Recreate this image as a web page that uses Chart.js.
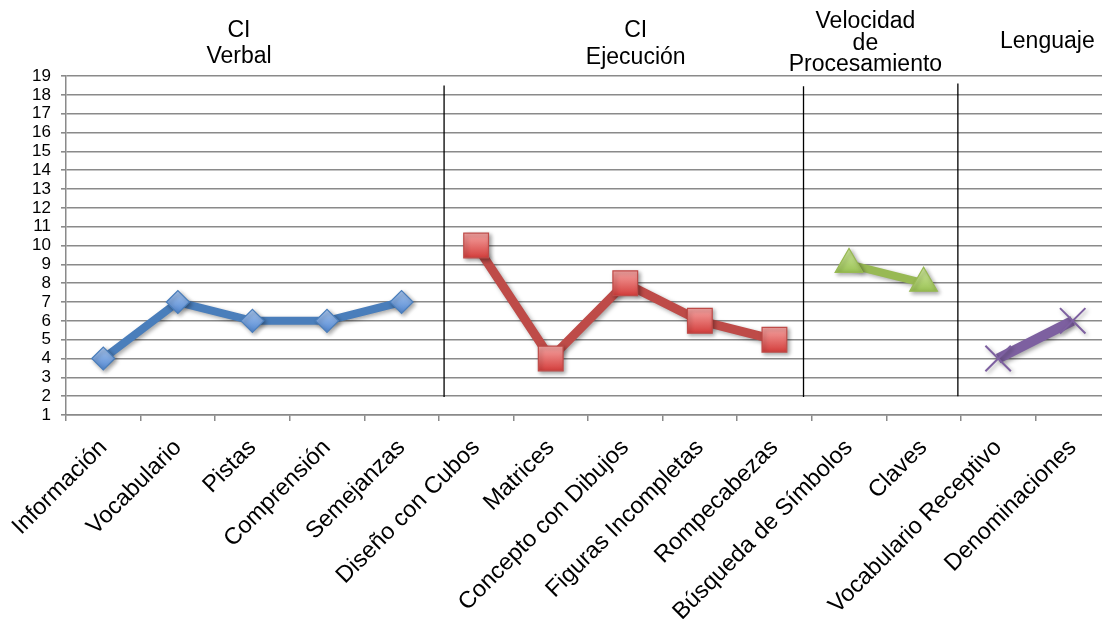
<!DOCTYPE html>
<html>
<head>
<meta charset="utf-8">
<script src="https://cdn.jsdelivr.net/npm/chart.js@4/dist/chart.umd.min.js"></script>
<style>
  html, body { margin: 0; padding: 0; background: #fff; overflow: hidden; }
  #wrap { width: 1102px; height: 619px; overflow: hidden; }
</style>
</head>
<body>
<div id="wrap"><canvas id="perfil" width="1130" height="619"></canvas></div>
<script>
// Subpruebas
const categories = [
  "Información", "Vocabulario", "Pistas", "Comprensión", "Semejanzas",
  "Diseño con Cubos", "Matrices", "Concepto con Dibujos", "Figuras Incompletas", "Rompecabezas",
  "Búsqueda de Símbolos", "Claves", "Vocabulario Receptivo", "Denominaciones"
];

// Puntuaciones escalares por grupo
const verbal     = [4, 7, 6, 6, 7, null, null, null, null, null, null, null, null, null];
const ejecucion  = [null, null, null, null, null, 10, 4, 8, 6, 5, null, null, null, null];
const velocidad  = [null, null, null, null, null, null, null, null, null, null, 9, 8, null, null];
const lenguaje   = [null, null, null, null, null, null, null, null, null, null, null, null, 4, 6];

// Escala
const yMin = 1, yMax = 19;

// Encabezados de grupo
const groupTitles = [
  ["CI", "Verbal"],
  ["CI", "Ejecución"],
  ["Velocidad", "de", "Procesamiento"],
  ["Lenguaje"]
];

function grad(top, bottom, r) {
  return function (context) {
    if (context.type !== "data" || context.raw == null) return bottom;
    const chart = context.chart;
    const py = chart.scales.y ? chart.scales.y.getPixelForValue(context.raw) : NaN;
    if (!isFinite(py)) return bottom;
    const g = chart.ctx.createLinearGradient(0, py - r, 0, py + r);
    g.addColorStop(0, top);
    g.addColorStop(1, bottom);
    return g;
  };
}

// Separadores verticales entre grupos (en unidades de categoría / valor)
const separatorPlugin = {
  id: "separators",
  beforeDatasetsDraw(chart) {
    const { ctx, scales: { x, y } } = chart;
    const lines = [
      { at: 4.57, from: 1.95, to: 18.5 },
      { at: 9.39, from: 1.95, to: 18.45 },
      { at: 11.46, from: 2.0, to: 18.6 }
    ];
    ctx.save();
    ctx.strokeStyle = "#000";
    ctx.lineWidth = 1.3;
    lines.forEach(l => {
      const px = x.getPixelForValue(l.at);
      ctx.beginPath();
      ctx.moveTo(px, y.getPixelForValue(l.to));
      ctx.lineTo(px, y.getPixelForValue(l.from));
      ctx.stroke();
    });
    ctx.restore();
  }
};

// Sombra de las series
const shadowPlugin = {
  id: "shadow",
  beforeDatasetsDraw(chart) {
    const ctx = chart.ctx;
    ctx.save();
    ctx.shadowColor = "rgba(0,0,0,0.35)";
    ctx.shadowBlur = 4;
    ctx.shadowOffsetX = 2;
    ctx.shadowOffsetY = 2;
  },
  afterDatasetsDraw(chart) {
    chart.ctx.restore();
  }
};

// Títulos de grupo (línea base de cada renglón)
const titlePlugin = {
  id: "groupTitles",
  afterDraw(chart) {
    const { ctx, scales: { x } } = chart;
    const place = [
      { at: 1.82, base: [37, 63] },
      { at: 7.14, base: [37, 64] },
      { at: 10.22, base: [28, 50, 71] },
      { at: 12.66, base: [48] }
    ];
    ctx.save();
    ctx.fillStyle = "#000";
    ctx.font = "23px 'Liberation Sans', Arial, sans-serif";
    ctx.textAlign = "center";
    ctx.textBaseline = "alphabetic";
    groupTitles.forEach((lines, i) => {
      const p = place[i];
      const px = x.getPixelForValue(p.at);
      lines.forEach((t, k) => ctx.fillText(t, px, p.base[k]));
    });
    ctx.restore();
  }
};

const gridGray = "#8a8a8a";

new Chart(document.getElementById("perfil"), {
  type: "line",
  data: {
    labels: categories,
    datasets: [
      {
        label: "CI Verbal",
        data: verbal,
        borderColor: "#4A7EBB",
        borderWidth: 8,
        pointStyle: "rectRot",
        pointRadius: 11.5,
        pointBackgroundColor: grad("#A9C6EE", "#5288D2", 11.5),
        pointBorderColor: "#4A7EBB",
        pointBorderWidth: 1.2
      },
      {
        label: "CI Ejecución",
        data: ejecucion,
        borderColor: "#BE4B48",
        borderWidth: 9,
        pointStyle: "rect",
        pointRadius: 17.5,
        pointBackgroundColor: grad("#F5A3A1", "#D4403E", 12),
        pointBorderColor: "#BE4B48",
        pointBorderWidth: 1.2
      },
      {
        label: "Velocidad de Procesamiento",
        data: velocidad,
        borderColor: "#98B954",
        borderWidth: 8,
        pointStyle: "triangle",
        pointRadius: 16,
        pointBackgroundColor: grad("#CDE79A", "#8DB843", 14),
        pointBorderColor: "#98B954",
        pointBorderWidth: 1.2
      },
      {
        label: "Lenguaje",
        data: lenguaje,
        borderColor: "#7D60A0",
        borderWidth: 10,
        pointStyle: "crossRot",
        pointRadius: 18,
        pointBorderColor: "#7D60A0",
        pointBackgroundColor: "#7D60A0",
        pointBorderWidth: 2
      }
    ]
  },
  options: {
    responsive: false,
    animation: false,
    spanGaps: false,
    layout: { padding: { top: 76, right: 0, left: 0, bottom: 0 } },
    plugins: {
      legend: { display: false },
      tooltip: { enabled: false }
    },
    scales: {
      x: {
        offset: true,
        grid: {
          offset: true,
          drawOnChartArea: false,
          drawTicks: true,
          tickLength: 6,
          color: gridGray,
          lineWidth: 1.5
        },
        border: { color: gridGray, width: 1.5 },
        ticks: {
          autoSkip: false,
          minRotation: 45,
          maxRotation: 45,
          padding: 13,
          color: "#000",
          font: { family: "'Liberation Sans', Arial, sans-serif", size: 23.5 }
        },
        afterFit(scale) {
          scale.height = 204;
        }
      },
      y: {
        min: yMin,
        max: yMax,
        grid: {
          color: gridGray,
          lineWidth: 1.6,
          tickLength: 5
        },
        border: { color: gridGray, width: 1.5 },
        ticks: {
          stepSize: 1,
          autoSkip: false,
          padding: 10,
          color: "#000",
          font: { family: "'Liberation Sans', Arial, sans-serif", size: 17 }
        },
        afterFit(scale) { scale.width = 66; }
      }
    }
  },
  plugins: [separatorPlugin, shadowPlugin, titlePlugin]
});
</script>
</body>
</html>
